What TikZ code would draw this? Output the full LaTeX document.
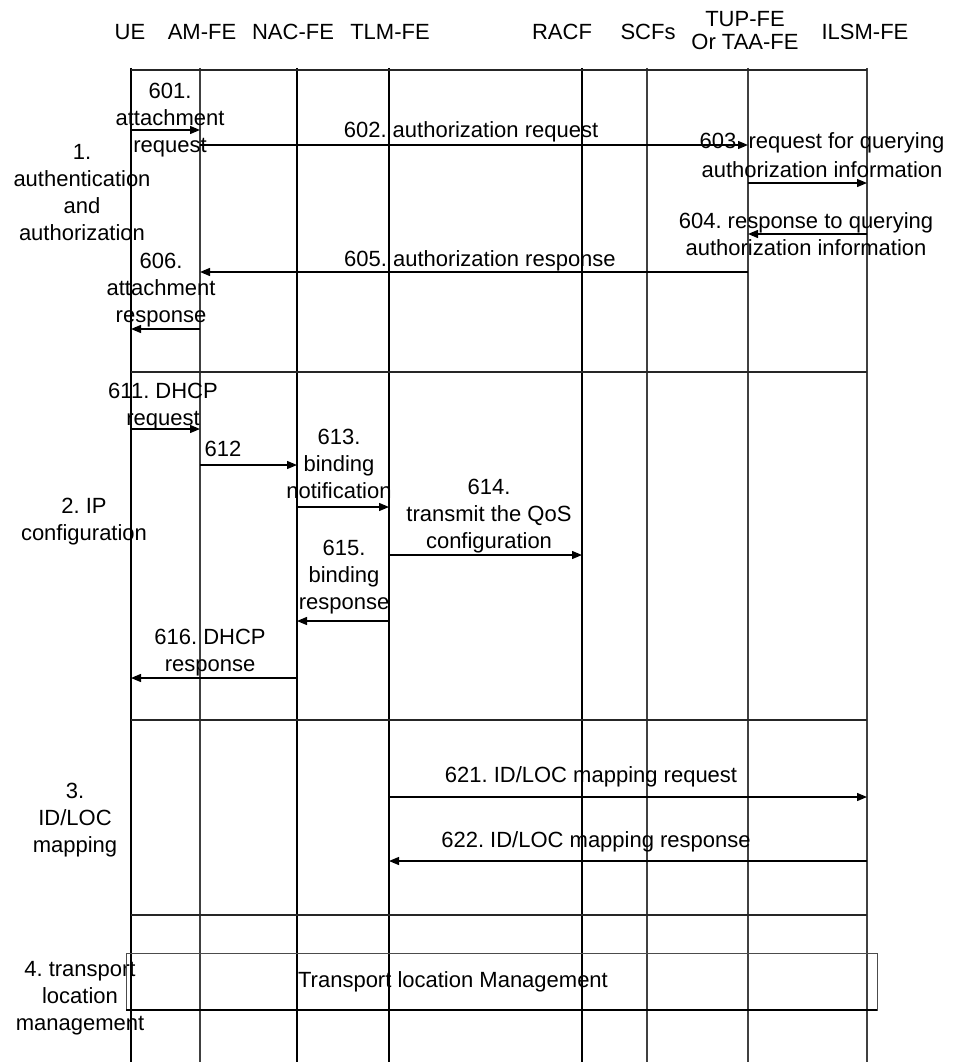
\documentclass[tikz,border=0pt]{standalone}
\usepackage{fontspec}
\setmainfont{Liberation Sans}
\usetikzlibrary{arrows.meta}
\frenchspacing
\begin{document}
\begin{tikzpicture}[x=1pt,y=-1pt,
  lbl/.style={font=\fontsize{22}{27}\selectfont, align=center, inner sep=0pt, anchor=base},
  life/.style={line width=1.4pt, black},
  lifeg/.style={line width=1.1pt, black!75},
  sep/.style={line width=1.3pt, black!85},
  msg/.style={line width=1.3pt, black, -{Triangle[length=10pt,width=8pt]}},
  tlmbox/.style={draw=black!70, line width=0.9pt}]
\useasboundingbox (0,0) rectangle (953,1062);
% lifeline coordinates
\coordinate (UE) at (131,68);   \coordinate (UEb) at (131,1062);
\coordinate (AM) at (200,68);   \coordinate (AMb) at (200,1062);
\coordinate (NAC) at (297,68);  \coordinate (NACb) at (297,1062);
\coordinate (TLM) at (389,68);  \coordinate (TLMb) at (389,1062);
\coordinate (RACF) at (582,68); \coordinate (RACFb) at (582,1062);
\coordinate (SCF) at (647,68);  \coordinate (SCFb) at (647,1062);
\coordinate (TUP) at (748,68);  \coordinate (TUPb) at (748,1062);
\coordinate (ILSM) at (867,68); \coordinate (ILSMb) at (867,1062);
% headers
\node[lbl] (hUE) at (130,40) {UE};
\node[lbl] (hAM) at (202,40) {AM-FE};
\node[lbl] (hNAC) at (293,40) {NAC-FE};
\node[lbl] (hTLM) at (390,40) {TLM-FE};
\node[lbl] (hRACF) at (562,40) {RACF};
\node[lbl] (hSCF) at (648,40) {SCFs};
\node[lbl] (hTUP) at (745,50) {TUP-FE\\[-4pt]Or TAA-FE};
\node[lbl] (hILSM) at (865,40) {ILSM-FE};
% lifelines
\draw[life] (UE) -- (UEb);
\draw[lifeg] (AM) -- (AMb);
\draw[life] (NAC) -- (NACb);
\draw[life] (TLM) -- (TLMb);
\draw[life] (RACF) -- (RACFb);
\draw[lifeg] (SCF) -- (SCFb);
\draw[lifeg] (TUP) -- (TUPb);
\draw[lifeg] (ILSM) -- (ILSMb);
% separators
\draw[sep] (UE |- 0,70) -- (ILSM |- 0,70);
\draw[sep] (UE |- 0,372) -- (ILSM |- 0,372);
\draw[sep] (UE |- 0,720) -- (ILSM |- 0,720);
\draw[sep, line width=2pt] (UE |- 0,915) -- (ILSM |- 0,915);
% section labels
\node[lbl] (s1) at (82,240) {1.\\authentication\\and\\authorization};
\node[lbl] (s2) at (84,540) {2. IP\\configuration};
\node[lbl] (s3) at (75,852) {3.\\ID/LOC\\mapping};
\node[lbl] (s4) at (80,1030) {4. transport\\location\\management};
% section 1
\node[lbl] (l601) at (170,152) {601.\\attachment\\request};
\draw[msg] (UE |- 0,130) -- (AM |- 0,130);
\node[lbl] (l602) at (471,138) {602. authorization request};
\draw[msg] (AM |- 0,145) -- (TUP |- 0,145);
\node[lbl] (l603) at (822,177) {603. request for querying\\[2pt]authorization information};
\draw[msg] (TUP |- 0,183) -- (ILSM |- 0,183);
\node[lbl] (l604) at (806,255) {604. response to querying\\authorization information};
\draw[msg] (ILSM |- 0,234) -- (TUP |- 0,234);
\node[lbl] (l605) at (480,266) {605. authorization response};
\draw[msg] (TUP |- 0,272) -- (AM |- 0,272);
\node[lbl] (l606) at (161,322) {606.\\attachment\\response};
\draw[msg] (AM |- 0,329) -- (UE |- 0,329);
% section 2
\node[lbl] (l611) at (163,425) {611. DHCP\\request};
\draw[msg] (UE |- 0,429) -- (AM |- 0,429);
\node[lbl] (l612) at (223,456) {612};
\draw[msg] (AM |- 0,465) -- (NAC |- 0,465);
\node[lbl] (l613) at (339,498) {613.\\binding\\notification};
\draw[msg] (NAC |- 0,507) -- (TLM |- 0,507);
\node[lbl] (l614) at (489,548) {614.\\transmit the QoS\\configuration};
\draw[msg] (TLM |- 0,555) -- (RACF |- 0,555);
\node[lbl] (l615) at (344,609) {615.\\binding\\response};
\draw[msg] (TLM |- 0,621) -- (NAC |- 0,621);
\node[lbl] (l616) at (210,671) {616. DHCP\\response};
\draw[msg] (NAC |- 0,678) -- (UE |- 0,678);
% section 3
\node[lbl] (l621) at (591,782) {621. ID/LOC mapping request};
\draw[msg] (TLM |- 0,797) -- (ILSM |- 0,797);
\node[lbl] (l622) at (596,847) {622. ID/LOC mapping response};
\draw[msg] (ILSM |- 0,861) -- (TLM |- 0,861);
% section 4
\draw[tlmbox] (126,953) rectangle (877,1010);
\draw[line width=1.4pt, black] (126,1010) -- (877,1010);
\node[lbl] (tlm) at (453,987) {Transport location Management};
\end{tikzpicture}
\end{document}
